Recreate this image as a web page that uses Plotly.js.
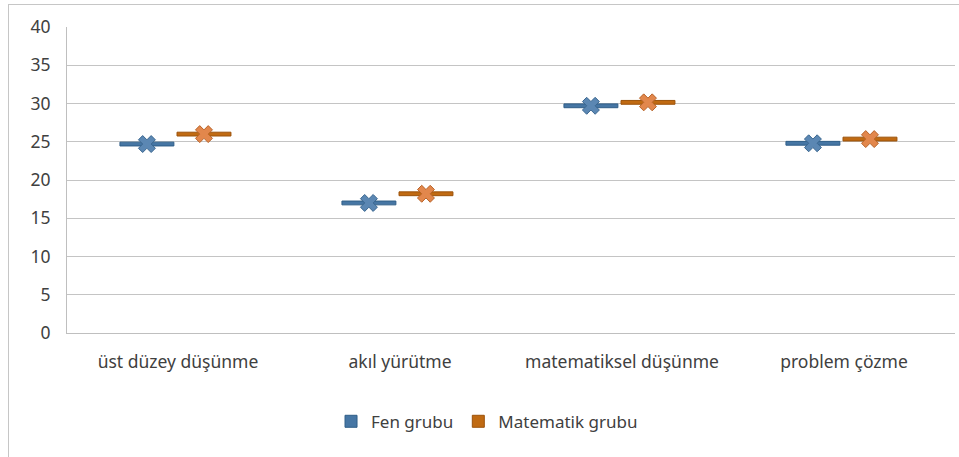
<!DOCTYPE html>
<html>
<head>
<meta charset="utf-8">
<script src="https://cdn.plot.ly/plotly-3.0.1.min.js"></script>
<style>
html,body{margin:0;padding:0;background:#fff;}
#wrap{position:relative;width:959px;height:457px;overflow:hidden;}
#chart{position:absolute;left:0;top:0;width:959px;height:457px;}
#frame{position:absolute;left:8px;top:4px;width:1000px;height:1000px;border-left:1px solid #c6c6c6;border-top:1px solid #c6c6c6;pointer-events:none;}
</style>
</head>
<body>
<div id="wrap"><div id="chart"></div><div id="frame"></div></div>
<script>
const categories = ["üst düzey düşünme", "akıl yürütme", "matematiksel düşünme", "problem çözme"];
const fenValues = [24.7, 17.0, 29.7, 24.8];
const matValues = [26.0, 18.2, 30.15, 25.35];
const seriesNames = ["Fen grubu", "Matematik grubu"];
const yTicks = [0, 5, 10, 15, 20, 25, 30, 35, 40];

const idx = categories.map((_, i) => i);
const fenOffset = -0.14, matOffset = 0.117, barW = 0.243, barH = 0.5;

function barTrace(vals, off, name, fill, edge) {
  return {
    type: 'bar', name: name,
    x: idx.map(i => i + off),
    y: vals.map(() => barH),
    base: vals.map(v => v - barH / 2),
    width: barW,
    marker: {color: fill, line: {color: edge, width: 1}},
    hoverinfo: 'skip'
  };
}
function xTrace(vals, off, fill, edge) {
  return {
    type: 'scatter', mode: 'markers', showlegend: false,
    x: idx.map(i => i + off), y: vals,
    marker: {symbol: 'x', size: 15, color: fill, line: {color: edge, width: 1}}
  };
}

const data = [
  barTrace(fenValues, fenOffset, seriesNames[0], '#4676a4', '#2f5e88'),
  barTrace(matValues, matOffset, seriesNames[1], '#c06a12', '#9c520a'),
  xTrace(fenValues, fenOffset, '#5b87b3', '#3b6790'),
  xTrace(matValues, matOffset, '#e2874c', '#b8642a')
];

const layout = {
  width: 959, height: 457,
  margin: {l: 67, r: 4, t: 27, b: 124},
  paper_bgcolor: '#fff', plot_bgcolor: '#fff',
  font: {family: 'Noto Sans, Open Sans, sans-serif', color: '#404040', size: 17},
  barmode: 'overlay',
  showlegend: true,
  legend: {orientation: 'h', x: 0.473, xanchor: 'center', y: -0.29, yanchor: 'middle',
           font: {size: 17, color: '#404040'}, itemwidth: 30, traceorder: 'normal'},
  xaxis: {
    range: [-0.5, 3.5], tickmode: 'array', tickvals: idx, ticktext: categories,
    showgrid: false, zeroline: false, showline: true, linecolor: '#bfbfbf', linewidth: 1,
    ticks: '', ticklabelstandoff: 13, tickfont: {size: 17.5, color: '#404040'}, fixedrange: true
  },
  yaxis: {
    range: [0, 40], tickmode: 'array', tickvals: yTicks,
    showgrid: true, gridcolor: '#c4c4c4', gridwidth: 1, zeroline: false,
    showline: true, linecolor: '#bfbfbf', linewidth: 1,
    ticks: '', ticklabelstandoff: 12, tickfont: {size: 17.5, color: '#404040'}, fixedrange: true
  }
};

Plotly.newPlot('chart', data, layout, {displayModeBar: false, staticPlot: true});
</script>
</body>
</html>
